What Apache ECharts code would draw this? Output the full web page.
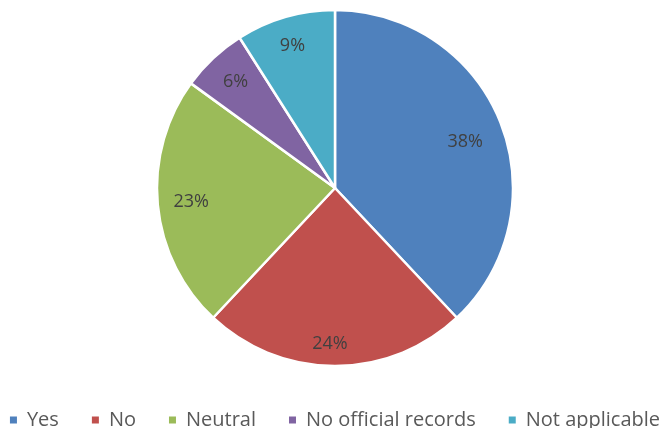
<!DOCTYPE html>
<html><head><meta charset="utf-8">
<script src="https://cdn.jsdelivr.net/npm/echarts@6/dist/echarts.min.js"></script>
<style>html,body{margin:0;padding:0;background:#fff}#c{width:668px;height:428px}</style>
</head><body><div id="c"></div>
<script>
const categories = ['Yes', 'No', 'Neutral', 'No official records', 'Not applicable'];
const values = [38, 24, 23, 6, 9];
const colors = ['#4F81BD', '#C0504D', '#9BBB59', '#8064A2', '#4BACC6'];
const labelOffsets = [[-5, 7], [-5, 10], [1, 0], [0, 0], [-2, -2]];

const data = categories.map((n, i) => ({ name: n, value: values[i], itemStyle: { color: colors[i] } }));
const chart = echarts.init(document.getElementById('c'));
const R = 178;
chart.setOption({
  animation: false,
  legend: {
    left: 'center', top: 405,
    itemWidth: 9, itemHeight: 9, itemGap: 31, icon: 'rect',
    textStyle: { color: '#595959', fontSize: 20, fontFamily: 'Open Sans', padding: [0, 0, 0, 4] },
    data: categories
  },
  series: [{
    type: 'pie', center: [335, 188], radius: [0, R], startAngle: 90, clockwise: true,
    itemStyle: { borderColor: '#fff', borderWidth: 2.5 },
    label: { show: false }, labelLine: { show: false }, silent: true,
    data: data
  }, {
    type: 'pie', center: [335, 188], radius: [R * 0.6, R], startAngle: 90, clockwise: true,
    itemStyle: { color: 'rgba(0,0,0,0)', borderWidth: 0 },
    label: { show: true, position: 'inside', formatter: '{d}%', color: '#404040', fontSize: 18, fontFamily: 'Open Sans' },
    labelLine: { show: false }, silent: true, legendHoverLink: false,
    data: categories.map((n, i) => ({ name: n + ' ', value: values[i], label: { offset: labelOffsets[i] } }))
  }]
});
</script></body></html>
